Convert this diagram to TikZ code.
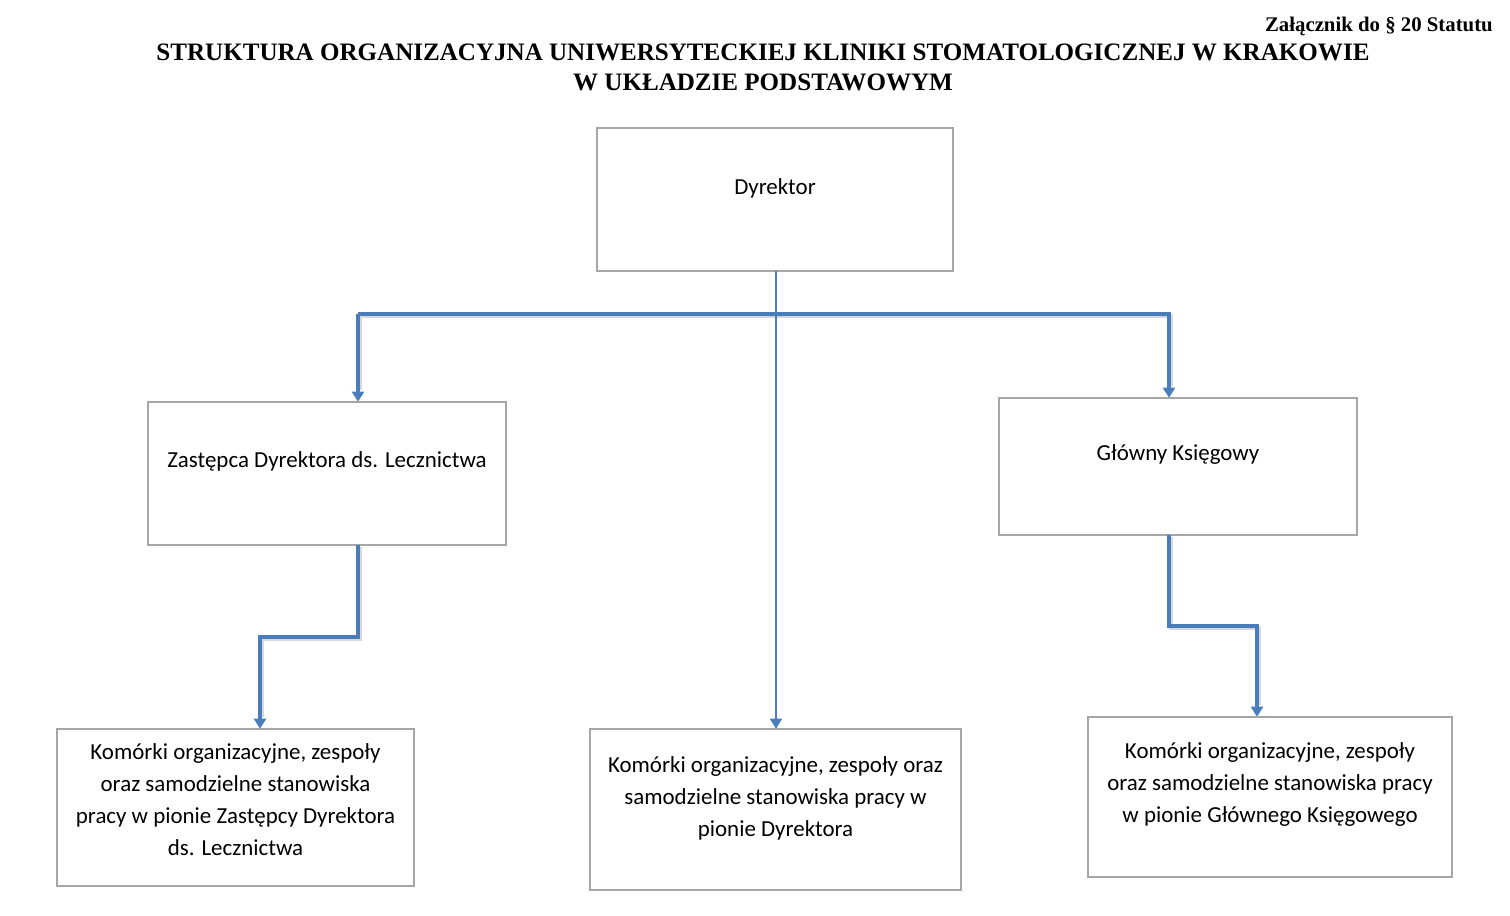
\documentclass[tikz,border=0pt]{standalone}
\usepackage{fontspec}
\setmainfont{Carlito}
\newfontfamily\titlefont{Liberation Serif}
\usetikzlibrary{arrows.meta,calc}
\definecolor{conn}{HTML}{4A7EBB}
\definecolor{boxgray}{HTML}{A6A6A6}
\begin{document}
\begin{tikzpicture}[x=0.75pt,y=-0.75pt,
  orgbox/.style={draw=boxgray,line width=1.1pt,fill=white,inner sep=0pt},
  boxtext/.style={font=\fontsize{17.2}{24}\selectfont,align=center,inner sep=0pt},
  thick conn/.style={draw=conn,line width=3pt,line join=miter,-{Triangle[length=7.5pt,width=9pt]}},
  conn shadow/.style={draw=black!25,line width=3pt,line join=miter,opacity=0.6},
  thin conn/.style={draw=conn,line width=1.1pt,-{Triangle[length=7.5pt,width=9pt]}},
  titletext/.style={font=\titlefont\bfseries\fontsize{18.8}{22.5}\selectfont,align=center,inner sep=0pt}
]
\useasboundingbox (0,0) rectangle (1510,916);
\fill[white] (0,0) rectangle (1510,916);

% title
\node[font=\titlefont\bfseries\fontsize{15.6}{18}\selectfont,anchor=east,inner sep=0pt] (annex) at (1493,26) {Załącznik do § 20 Statutu};
\node[titletext] (title) at (763,67) {STRUKTURA ORGANIZACYJNA UNIWERSYTECKIEJ KLINIKI STOMATOLOGICZNEJ W KRAKOWIE\\W UKŁADZIE PODSTAWOWYM};

% boxes
\path[orgbox] (597,128) rectangle (953,271);
\node[inner sep=0pt,minimum width=267pt,minimum height=107.25pt] (dyr) at (775,199.5) {};
\node[boxtext] (dyrt) at (775,188) {Dyrektor};

\path[orgbox] (148,402) rectangle (506,545);
\node[inner sep=0pt,minimum width=268.5pt,minimum height=107.25pt] (zast) at (327,473.5) {};
\node[boxtext] (zastt) at (327,461) {Zastępca Dyrektora ds. Lecznictwa};

\path[orgbox] (999,398) rectangle (1357,535);
\node[inner sep=0pt,minimum width=268.5pt,minimum height=102.75pt] (glow) at (1178,466.5) {};
\node[boxtext] (glowt) at (1178,455) {Główny Księgowy};

\path[orgbox] (57,729) rectangle (414,886);
\node[inner sep=0pt,minimum width=267.75pt,minimum height=117.75pt] (kl) at (235.5,807.5) {};
\node[boxtext] (klt) at (235.5,800) {Komórki organizacyjne, zespoły\\oraz samodzielne stanowiska\\pracy w pionie Zastępcy Dyrektora\\ds. Lecznictwa};

\path[orgbox] (590,729) rectangle (961,890);
\node[inner sep=0pt,minimum width=278.25pt,minimum height=120.75pt] (km) at (775.5,809.5) {};
\node[boxtext] (kmt) at (775.5,798) {Komórki organizacyjne, zespoły oraz\\samodzielne stanowiska pracy w\\pionie Dyrektora};

\path[orgbox] (1088,717) rectangle (1452,877);
\node[inner sep=0pt,minimum width=273pt,minimum height=120pt] (kr) at (1270,797) {};
\node[boxtext] (krt) at (1270,785) {Komórki organizacyjne, zespoły\\oraz samodzielne stanowiska pracy\\w pionie Głównego Księgowego};

% connectors
\coordinate (jl) at (358,314);
\coordinate (jr) at (1169,314);
\coordinate (zl) at (358,637);
\coordinate (zr) at (260,637);
\coordinate (gl) at (1169,626);
\coordinate (gr) at (1257,626);
% soft shadows
\draw[conn shadow] ($(jl |- zast.north)+(1.5,-12)$) -- ($(jl)+(1.5,2)$) -- ($(jr)+(1.5,2)$) -- ($(jr |- glow.north)+(1.5,-12)$);
\draw[conn shadow] ($(zast.south -| zl)+(1.5,2)$) -- ($(zl)+(1.5,2)$) -- ($(zr)+(1.5,2)$) -- ($(zr |- kl.north)+(1.5,-12)$);
\draw[conn shadow] ($(glow.south -| gl)+(1.5,2)$) -- ($(gl)+(1.5,2)$) -- ($(gr)+(1.5,2)$) -- ($(gr |- kr.north)+(1.5,-12)$);
\draw[thick conn] (jl) -- (jr) -- (jr |- glow.north);
\draw[thick conn] (jr -| jl) -- (jl |- zast.north);
\draw[thin conn] (dyr.south -| 776,0) -- (km.north -| 776,0);
\draw[thick conn] (zast.south -| zl) -- (zl) -- (zr) -- (zr |- kl.north);
\draw[thick conn] (glow.south -| gl) -- (gl) -- (gr) -- (gr |- kr.north);
\end{tikzpicture}
\end{document}
